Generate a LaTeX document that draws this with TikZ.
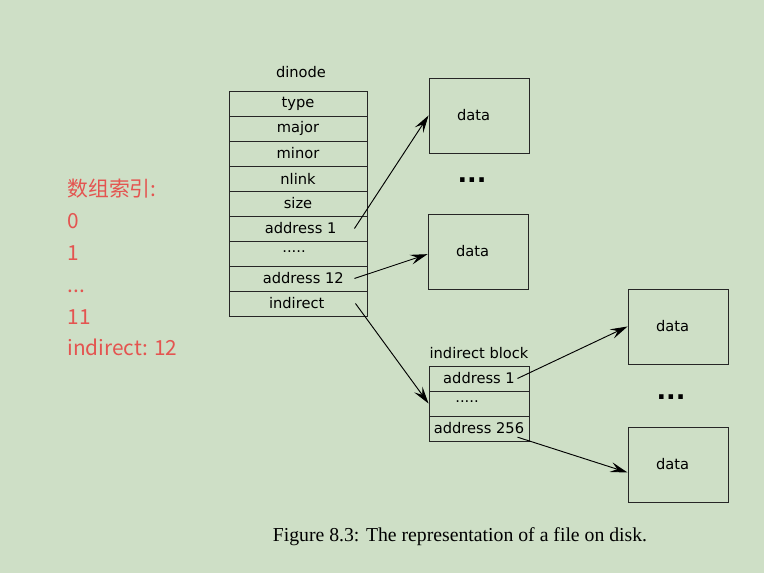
\documentclass[tikz,border=0pt]{standalone}
\usepackage{fontspec}
\setmainfont{DejaVu Sans}
\newfontfamily\cjk{Noto Sans CJK SC}
\newfontfamily\capfont{Liberation Serif}
\usepackage{tikz}
\usetikzlibrary{arrows.meta,positioning}
\definecolor{bggreen}{RGB}{206,223,198}
\definecolor{idxred}{RGB}{228,84,80}

\begin{document}
\begin{tikzpicture}[x=0.75pt,y=-0.75pt,->,>={Stealth[length=13pt,width=7.5pt,inset=5pt]},
                    line width=0.7pt,node distance=18.75pt]
\tikzstyle{row}=[draw=black!85,minimum width=103.5pt,minimum height=18.75pt,inner sep=0pt]
\tikzstyle{smallrow}=[row,minimum width=75pt]
\tikzstyle{block}=[draw=black!85,minimum width=75pt,minimum height=56.25pt,inner sep=0pt]
\tikzstyle{idx}=[text=idxred,anchor=base west,inner sep=0pt,font=\cjk\fontsize{15.6pt}{19pt}\selectfont]
\tikzstyle{more}=[font=\fontsize{19pt}{20pt}\selectfont\bfseries]
\tikzset{font=\fontsize{11pt}{13}\selectfont}

  \fill[bggreen,-] (0,0) rectangle (764,573);
  \useasboundingbox (0,0) rectangle (764,573);

        % index list
        \node[idx] (i0) at (67,197) {数组索引:};
        \node[idx] (i1) at (67,229) {0};
        \node[idx] (i2) at (67,261) {1};
        \node[idx] (i3) at (67,293) {...};
        \node[idx] (i4) at (67,325) {11};
        \node[idx] (i5) at (67,356) {indirect: 12};

        % dinode
        \node (dinode) at (301,72) {dinode};
        \node[row] (type)                         at (298,103.5) {type};
        \node[row] (major)    [below of=type]     {major};
        \node[row] (minor)    [below of=major]    {minor};
        \node[row] (nlink)    [below of=minor]    {nlink};
        \node[row] (size)     [below of=nlink]    {size};
        \node[row] (addr1)    [below of=size]     {\hspace*{4pt}address 1};
        \node[row] (dots1)    [below of=addr1]    {\raisebox{3pt}{.....}\hspace*{6pt}};
        \node[row] (addr12)   [below of=dots1]    {\hspace*{8pt}address 12};
        \node[row] (indirect) [below of=addr12]   {indirect\hspace*{2pt}};

        % data blocks
        \node[block] (data1) at (479,115.5) {data\hspace*{8pt}};
        \node[more] (more1) at (472,180) {...};
        \node[block] (data2) at (478,251.5) {data\hspace*{8pt}};

        % indirect block
        \node (iblock) at (479,353) {indirect block};
        \node[smallrow] (ib1)               at (479,378.5) {address 1};
        \node[smallrow] (ib2) [below of=ib1] {\raisebox{3pt}{.....}\hspace*{18pt}};
        \node[smallrow] (ib3) [below of=ib2] {address 256};

        \node[block] (data3) at (678,326.5) {data\hspace*{8pt}};
        \node[more] (more2) at (671,397) {...};
        \node[block] (data4) at (678,464.5) {data\hspace*{8pt}};

        \node (caption) at (460,537) {\capfont\fontsize{14.8pt}{17pt}\selectfont Figure 8.3: The representation of a file on disk.};

        \path[->]
        ([xshift=-9.75pt]addr1.east)        edge (data1.west)
        ([xshift=-9.75pt]addr12.east)       edge ([yshift=-2pt]data2.west)
        ([xshift=-9pt]indirect.east)        edge (ib2.west)
        ([xshift=-9pt]ib1.east)             edge (data3.west)
        ([xshift=-9pt,yshift=-6.5pt]ib3.east) edge ([yshift=-6pt]data4.west)
        ; %end path

\end{tikzpicture}
\end{document}
